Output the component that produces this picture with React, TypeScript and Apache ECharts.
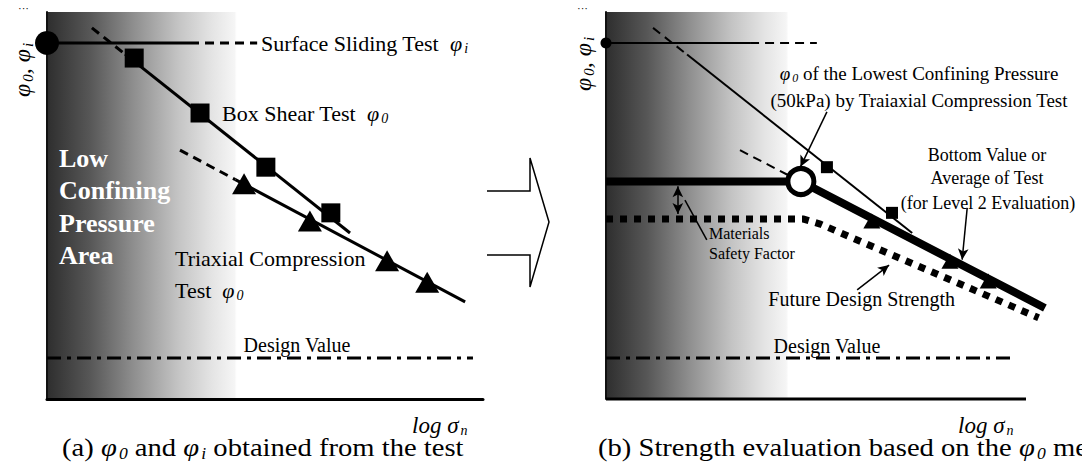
import React, { useEffect, useRef } from "react";
import * as echarts from "echarts";

const FONT = "'Liberation Serif', 'Times New Roman', Times, serif";

// ---------- Panel (a): φ against log σn (axis units 0–100) ----------
const surfaceLevelA = 92;
const surfaceSolidA = [[0, surfaceLevelA], [32.8, surfaceLevelA]];
const surfaceDashA = [[32.8, surfaceLevelA], [48.2, surfaceLevelA]];
const surfacePointA = [[0, surfaceLevelA]];
const boxShearLeadA = [[10.3, 95.9], [17.9, 89.1]];
const boxShearLineA = [[17.9, 89.1], [69.5, 42.9]];
const boxShearPointsA = [[20.0, 88.1], [35.1, 73.9], [50.2, 59.9], [65.1, 48.1]];
const triaxialLeadA = [[30.5, 64.3], [43.2, 56.7]];
const triaxialLineA = [[43.2, 56.7], [95.9, 25.1]];
const triaxialPointsA = [[45.2, 55.6], [60.3, 46.0], [78.0, 35.7], [87.2, 30.2]];
const designValueA = [[0, 10.6], [97.7, 10.6]];

// ---------- Panel (b): strength evaluation ----------
const surfaceLevelB = 92;
const surfaceSolidB = [[0, surfaceLevelB], [34.3, surfaceLevelB]];
const surfaceDashB = [[34.3, surfaceLevelB], [50.2, surfaceLevelB]];
const surfacePointB = [[0, surfaceLevelB]];
const boxShearLeadB = [[11.2, 95.9], [19.3, 89.0]];
const boxShearLineB = [[19.3, 89.0], [72.9, 42.9]];
const boxShearPointsB = [[52.6, 59.9], [68.1, 48.1]];
const lowestLeadB = [[31.9, 64.3], [44.0, 57.5]];
const lowestPointB = [[46.4, 56.2]];
const bottomValueB = [[0, 56.2], [46.4, 56.2], [104.5, 23.5]];
const triaxialPointsB = [[63.3, 46.0], [81.9, 35.6], [91.0, 30.5]];
const futureDesignB = [[0, 46.5], [47.0, 46.5], [51.0, 45.2], [103.0, 21.0]];
const designValueB = [[0, 10.6], [97.4, 10.6]];
const baseAxisB = [[0, 0], [100, 0]];

// annotation pointers in panel (b)
const pointerToLowest = [[52.6, 74.2], [46.3, 60.0]];
const pointerToBottom = [[86.0, 49.4], [84.8, 36.0]];
const pointerToFuture = [[59.8, 28.2], [67.4, 34.6]];
const safetyFactorSpan = [[17.1, 55.0], [17.1, 47.8]];
const safetyFactorLeader = [[18.8, 51.4], [24.0, 41.1]];

// grey shading of the low confining pressure area; `edge` is where it turns white
const shade = (edge: number) =>
  new echarts.graphic.LinearGradient(0, 0, 1, 0, [
    { offset: 0, color: "#2e2e2e" },
    { offset: edge * 0.23, color: "#575757" },
    { offset: edge * 0.46, color: "#8e8e8e" },
    { offset: edge * 0.7, color: "#c4c4c4" },
    { offset: edge * 0.88, color: "#e4e4e4" },
    { offset: edge, color: "#f5f5f5" },
    { offset: edge + 0.005, color: "#ffffff" },
    { offset: 1, color: "#ffffff" },
  ]);

const axisPair = (gridIndex: number, xMax: number, showX: boolean) => ({
  x: {
    gridIndex,
    type: "value",
    min: 0,
    max: xMax,
    axisLine: { show: showX, onZero: false, lineStyle: { color: "#000", width: 3 } },
    axisTick: { show: false },
    axisLabel: { show: false },
    splitLine: { show: false },
  },
  y: {
    gridIndex,
    type: "value",
    min: 0,
    max: 100,
    axisLine: { show: true, onZero: false, lineStyle: { color: "#111", width: 2 } },
    axisTick: { show: false },
    axisLabel: { show: false },
    splitLine: { show: false },
  },
});

const seg = (g: number, data: number[][], width: number, type: any, z = 3) => ({
  type: "line",
  xAxisIndex: g,
  yAxisIndex: g,
  data,
  symbol: "none",
  showSymbol: false,
  clip: false,
  silent: true,
  z,
  lineStyle: { color: "#000", width, type, cap: "butt", join: "miter" },
});

const dots = (g: number, data: number[][], symbol: string, size: any, extra: any = {}) => ({
  type: "scatter",
  xAxisIndex: g,
  yAxisIndex: g,
  data,
  symbol,
  symbolSize: size,
  clip: false,
  silent: true,
  z: 4,
  itemStyle: { color: "#000", opacity: 1 },
  ...extra,
});

const richFor = (size: number, color = "#000") => ({
  g: { fontFamily: FONT, fontSize: size, fontStyle: "italic", fill: color, lineHeight: Math.round(size * 1.1) },
  s: {
    fontFamily: FONT,
    fontSize: Math.round(size * 0.62),
    fontStyle: "italic",
    fill: color,
    verticalAlign: "bottom",
    lineHeight: Math.round(size * 0.62),
    padding: [0, 0, 0, 2],
  },
});

const label = (x: number, y: number, text: string, size: number, opts: any = {}) => ({
  type: "text",
  x,
  y,
  z: 10,
  silent: true,
  rotation: opts.rotation || 0,
  scaleX: opts.stretch || 1,
  style: {
    text,
    fontFamily: FONT,
    fontSize: size,
    fontStyle: opts.italic ? "italic" : "normal",
    fontWeight: opts.bold ? "bold" : "normal",
    fill: opts.color || "#000",
    align: opts.align || "left",
    textAlign: opts.align || "left",
    verticalAlign: "middle",
    textVerticalAlign: "middle",
    lineHeight: Math.round(size * 1.1),
    rich: richFor(size, opts.color || "#000"),
  },
});

export default function App() {
  const ref = useRef<HTMLDivElement>(null);

  useEffect(() => {
    if (!ref.current) return;
    const chart = echarts.init(ref.current, undefined, { renderer: "svg" });
    const a = axisPair(0, 100, true);
    const b = axisPair(1, 110, false);

    const arrowStyle = { color: "#000", width: 1.5, type: "solid" };

    chart.setOption({
      animation: false,
      backgroundColor: "#fff",
      grid: [
        { left: 47, top: 12, width: 436, height: 387, show: true, borderWidth: 0, backgroundColor: shade(0.43) },
        { left: 606, top: 12, width: 462, height: 387, show: true, borderWidth: 0, backgroundColor: shade(0.39) },
      ],
      xAxis: [a.x, b.x],
      yAxis: [a.y, b.y],
      series: [
        // panel (a)
        seg(0, designValueA, 3, [14, 6, 4, 6]),
        seg(0, surfaceSolidA, 3, "solid"),
        seg(0, surfaceDashA, 3, [9, 6]),
        seg(0, boxShearLeadA, 3, [9, 6]),
        seg(0, boxShearLineA, 3, "solid"),
        seg(0, triaxialLeadA, 3, [9, 6]),
        seg(0, triaxialLineA, 3, "solid"),
        dots(0, surfacePointA, "circle", 24),
        dots(0, boxShearPointsA, "rect", 19),
        dots(0, triaxialPointsA, "triangle", [24, 21]),

        // panel (b)
        seg(1, baseAxisB, 3, "solid"),
        {
          ...seg(1, designValueB, 3, [14, 6, 4, 6]),
          markLine: {
            silent: true,
            animation: false,
            symbol: ["none", "arrow"],
            symbolSize: [8, 11],
            label: { show: false },
            emphasis: { disabled: true },
            lineStyle: arrowStyle,
            data: [
              [{ coord: pointerToLowest[0] }, { coord: pointerToLowest[1] }],
              [{ coord: pointerToBottom[0] }, { coord: pointerToBottom[1] }],
              [{ coord: pointerToFuture[0] }, { coord: pointerToFuture[1] }],
              [
                { coord: safetyFactorSpan[0], symbol: "arrow" },
                { coord: safetyFactorSpan[1], symbol: "arrow" },
              ],
              [
                { coord: safetyFactorLeader[0], symbol: "none", lineStyle: { curveness: 0.3 } },
                { coord: safetyFactorLeader[1], symbol: "none" },
              ],
            ],
          },
        },
        seg(1, surfaceSolidB, 2, "solid"),
        seg(1, surfaceDashB, 2, [9, 6]),
        seg(1, boxShearLeadB, 2, [9, 6]),
        seg(1, boxShearLineB, 2, "solid"),
        seg(1, lowestLeadB, 2, [9, 6]),
        dots(1, surfacePointB, "circle", 11),
        dots(1, boxShearPointsB, "rect", 12),
        dots(1, triaxialPointsB, "triangle", [17, 15]),
        seg(1, futureDesignB, 7, [7, 7], 5),
        seg(1, bottomValueB, 8, "solid", 5),
        dots(1, lowestPointB, "circle", 26, {
          z: 6,
          itemStyle: { color: "#fff", borderColor: "#000", borderWidth: 5, opacity: 1 },
        }),
      ],
      graphic: [
        // transition arrow between the panels
        {
          type: "polyline",
          z: 10,
          silent: true,
          shape: {
            points: [
              [487, 191],
              [530, 191],
              [530, 158],
              [549, 222],
              [530, 287],
              [530, 255],
              [487, 255],
            ],
          },
          style: { stroke: "#000", lineWidth: 1.5, fill: null },
        },

        // small marks above the vertical axes
        label(18, 8, "···", 11),
        label(577, 8, "···", 11),

        // vertical axis titles
        label(22, 70, "{g|φ}{s|0}{g|, φ}{s|i}", 24, { rotation: Math.PI / 2, align: "center" }),
        label(583, 64, "{g|φ}{s|0}{g|, φ}{s|i}", 24, { rotation: Math.PI / 2, align: "center" }),

        // panel (a) labels
        label(261, 43, "Surface Sliding Test  {g|φ}{s|i}", 22),
        label(222, 113, "Box Shear Test  {g|φ}{s|0}", 22),
        label(175, 258, "Triaxial Compression", 22),
        label(175, 290, "Test  {g|φ}{s|0}", 22),
        label(297, 345, "Design Value", 20, { align: "center" }),
        label(59, 158, "Low", 26, { bold: true, color: "#fff" }),
        label(59, 190, "Confining", 26, { bold: true, color: "#fff" }),
        label(59, 223, "Pressure", 26, { bold: true, color: "#fff" }),
        label(59, 255, "Area", 26, { bold: true, color: "#fff" }),
        label(412, 425, "{g|log σ}{s|n}", 23),
        label(62, 447, "(a) {g|φ}{s|0} and {g|φ}{s|i} obtained from the test", 26, { stretch: 1.1 }),

        // panel (b) labels
        label(919, 73, "{g|φ}{s|0} of the Lowest Confining Pressure", 19, { align: "center" }),
        label(919, 100, "(50kPa) by Traiaxial Compression Test", 19, { align: "center" }),
        label(987, 155, "Bottom Value or", 18, { align: "center" }),
        label(987, 178, "Average of Test", 18, { align: "center" }),
        label(988, 203, "(for Level 2 Evaluation)", 18, { align: "center" }),
        label(709, 233, "Materials", 16),
        label(709, 253, "Safety Factor", 16),
        label(955, 299, "Future Design Strength", 20, { align: "right" }),
        label(827, 346, "Design Value", 20, { align: "center" }),
        label(958, 425, "{g|log σ}{s|n}", 23),
        label(598, 447, "(b) Strength evaluation based on the {g|φ}{s|0} method", 26, { stretch: 1.1 }),
      ],
    });

    return () => chart.dispose();
  }, []);

  return (
    <div
      ref={ref}
      style={{ position: "fixed", left: 0, top: 0, width: 1082, height: 463, background: "#fff" }}
    />
  );
}
